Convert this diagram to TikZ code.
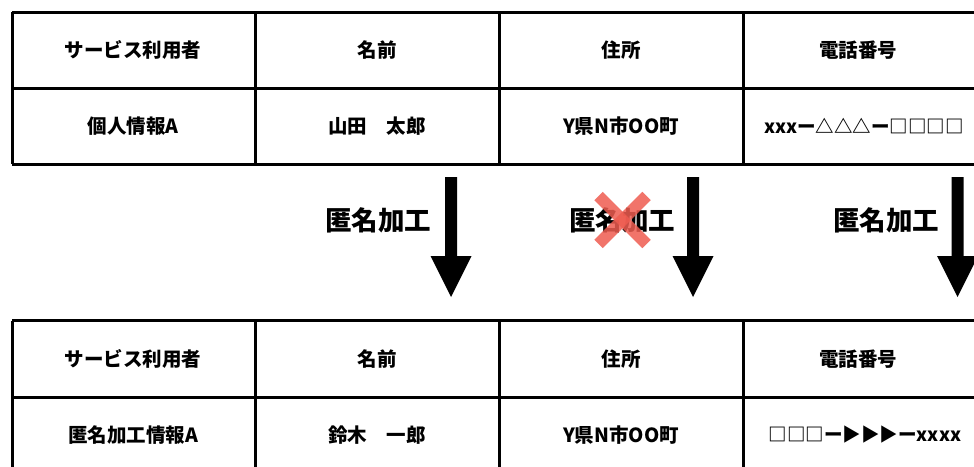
\documentclass[tikz,border=0pt]{standalone}
\usepackage{fontspec}
\setmainfont{Noto Sans CJK JP}
\begin{document}
\begin{tikzpicture}[x=1pt,y=-1pt,
  grid/.style={line width=3pt,black},
  cell/.style={font=\bfseries\fontsize{19.5}{22}\selectfont,inner sep=0pt,anchor=center},
  small/.style={font=\bfseries\fontsize{18.5}{21}\selectfont,inner sep=0pt,anchor=center},
  big/.style={font=\bfseries\fontsize{26.5}{30}\selectfont,inner sep=0pt,anchor=center},
  blockarrow/.style={fill=black},
  cross/.style={line width=12pt,draw={rgb,255:red,238;green,92;blue,80},opacity=0.85}]
\useasboundingbox (0,0) rectangle (974,466);
\begin{scope}
\clip (0,0) rectangle (974,466);
% top table
\draw[grid] (12,12) -- (980,12);
\draw[grid] (12,88.5) -- (980,88.5);
\draw[grid] (12,164) -- (980,164);
\draw[grid] (12,12) -- (12,164);
\draw[grid] (255.5,12) -- (255.5,164);
\draw[grid] (499,12) -- (499,164);
\draw[grid] (743,12) -- (743,164);
% bottom table
\draw[grid] (12,320.5) -- (980,320.5);
\draw[grid] (12,397) -- (980,397);
\draw[grid] (12,320.5) -- (12,470);
\draw[grid] (255.5,320.5) -- (255.5,470);
\draw[grid] (499,320.5) -- (499,470);
\draw[grid] (743,320.5) -- (743,470);
% arrows
\foreach \cx in {451,693,957.5}{
  \fill[blockarrow] (\cx-6,177) -- (\cx+6,177) -- (\cx+6,256) -- (\cx+20.5,256)
     -- (\cx,297) -- (\cx-20.5,256) -- (\cx-6,256) -- cycle;
}
\end{scope}
% top table text
\node[cell] (t11) at (133,50) {サービス利用者};
\node[cell] (t12) at (377,50) {名前};
\node[cell] (t13) at (621,50) {住所};
\node[cell] (t14) at (858,50) {電話番号};
\node[cell] (t21) at (133,126) {個人情報A};
\node[cell] (t22) at (377,126) {山田\quad 太郎};
\node[cell] (t23) at (621,126) {Y県N市OO町};
\node[small] (t24) at (864,126) {xxxー△△△ー□□□□};
% labels
\node[big] (l1) at (378,220) {匿名加工};
\node[big] (l2) at (622,220) {匿名加工};
\node[big] (l3) at (886,220) {匿名加工};
\draw[cross] (598.5,196) -- (646.5,244);
\draw[cross] (646.5,196) -- (598.5,244);
% bottom table text
\node[cell] (b11) at (133,359) {サービス利用者};
\node[cell] (b12) at (377,359) {名前};
\node[cell] (b13) at (621,359) {住所};
\node[cell] (b14) at (858,359) {電話番号};
\node[cell] (b21) at (133,435) {匿名加工情報A};
\node[cell] (b22) at (377,435) {鈴木\quad 一郎};
\node[cell] (b23) at (621,435) {Y県N市OO町};
\node[small] (b24) at (865,435) {□□□ー▶▶▶ーxxxx};
\end{tikzpicture}
\end{document}
